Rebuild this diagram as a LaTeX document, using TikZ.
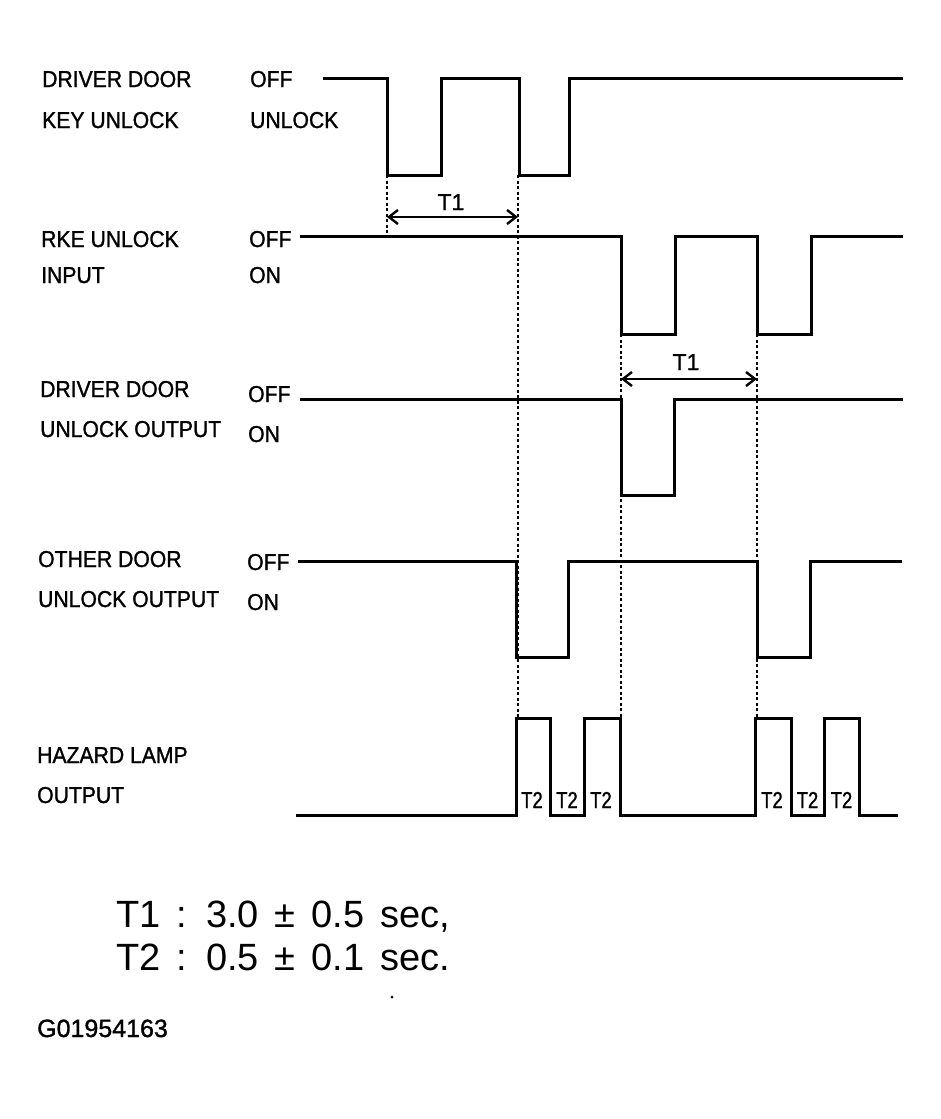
\documentclass[tikz,border=0pt]{standalone}
\usepackage{fontspec}
\setmainfont{Liberation Sans}[FakeStretch=0.92,FakeBold=1.2]
\newfontfamily\plainfont{Liberation Sans}[FakeBold=1.2]
\newfontfamily\legendfont{Liberation Sans}[WordSpace=1.5]
\newfontfamily\narrowfont{Liberation Sans}[FakeStretch=0.8,FakeBold=1.2]
\usetikzlibrary{arrows.meta}

\tikzset{
  signal/.style={line width=3pt, line join=miter},
  guide/.style={line width=2.6pt, dash pattern=on 3pt off 2.5pt},
  lbl/.style={anchor=base west, inner sep=0pt, font=\fontsize{23}{23}\selectfont},
  tmark/.style={anchor=base, inner sep=0pt, font=\plainfont\fontsize{23}{23}\selectfont},
  tsmall/.style={anchor=base, inner sep=0pt, font=\narrowfont\fontsize{23}{23}\selectfont},
  tspan/.style={line width=2.4pt, {Straight Barb[length=9pt,width=14pt]}-{Straight Barb[length=9pt,width=14pt]}},
}

\begin{document}
\begin{tikzpicture}[x=1pt,y=-1pt]
    \fill[white] (0,0) rectangle (941,1119);

    % Signal names
    \node[lbl] (n1a) at (42,87)  {DRIVER DOOR};
    \node[lbl] (n1b) at (42,128) {KEY UNLOCK};
    \node[lbl] (n2a) at (41,247) {RKE UNLOCK};
    \node[lbl] (n2b) at (41,283) {INPUT};
    \node[lbl] (n3a) at (40,397) {DRIVER DOOR};
    \node[lbl] (n3b) at (40,437) {UNLOCK OUTPUT};
    \node[lbl] (n4a) at (38,567) {OTHER DOOR};
    \node[lbl] (n4b) at (38,607) {UNLOCK OUTPUT};
    \node[lbl] (n5a) at (37,763) {HAZARD LAMP};
    \node[lbl] (n5b) at (37,803) {OUTPUT};

    % States
    \node[lbl] (s1a) at (250,87)  {OFF};
    \node[lbl] (s1b) at (250,128) {UNLOCK};
    \node[lbl] (s2a) at (249,247) {OFF};
    \node[lbl] (s2b) at (249,283) {ON};
    \node[lbl] (s3a) at (248,402) {OFF};
    \node[lbl] (s3b) at (248,442) {ON};
    \node[lbl] (s4a) at (247,570) {OFF};
    \node[lbl] (s4b) at (247,610) {ON};

    % Waveforms
    \draw[signal] (323,78) -- (387,78) -- (387,175) -- (441,175) -- (441,78)
        -- (519,78) -- (519,175) -- (569,175) -- (569,78) -- (903,78);
    \draw[signal] (300,236) -- (621,236) -- (621,334) -- (675,334) -- (675,236)
        -- (757,236) -- (757,334) -- (811,334) -- (811,236) -- (903,236);
    \draw[signal] (300,399) -- (621,399) -- (621,495) -- (674,495) -- (674,399)
        -- (903,399);
    \draw[signal] (298,561) -- (516,561) -- (516,657) -- (568,657) -- (568,561)
        -- (757,561) -- (757,657) -- (810,657) -- (810,561) -- (902,561);
    \draw[signal] (296,815) -- (516,815) -- (516,718) -- (550,718) -- (550,815)
        -- (584,815) -- (584,718) -- (620,718) -- (620,815) -- (755,815)
        -- (755,718) -- (791,718) -- (791,815) -- (824,815) -- (824,718)
        -- (859,718) -- (859,815) -- (898,815);

    % Timing guides
    \coordinate (g1) at (387,175);
    \coordinate (g2) at (518,175);
    \coordinate (g3) at (621,334);
    \coordinate (g4) at (757,334);
    \draw[guide] (g1) -- (387,236);
    \draw[guide] (g2) -- (518,718);
    \draw[guide] (g3) -- (621,718);
    \draw[guide] (g4) -- (757,718);

    % T1 spans
    \coordinate (a1) at (387,217);
    \coordinate (b1) at (518,217);
    \coordinate (a2) at (621,379);
    \coordinate (b2) at (757,379);
    \draw[tspan] (a1) -- (b1);
    \draw[tspan] (a2) -- (b2);
    \node[tmark] (t1a) at (451,210) {T1};
    \node[tmark] (t1b) at (686,370) {T1};

    % T2 marks
    \foreach \xc in {532,567,601,772,807.5,841.5}
        \node[tsmall] at (\xc,808) {T2};

    % Legend
    \node[anchor=base west, inner sep=0pt, font=\legendfont\fontsize{38}{38}\selectfont]
        (leg1) at (116,927) {T1 : 3.0 ± 0.5 sec,};
    \node[anchor=base west, inner sep=0pt, font=\legendfont\fontsize{38}{38}\selectfont]
        (leg2) at (116,970) {T2 : 0.5 ± 0.1 sec.};
    \fill (392,997) circle (1.5pt);
    \node[anchor=base west, inner sep=0pt, font=\plainfont\fontsize{25}{25}\selectfont]
        (code) at (37,1037) {G01954163};
\end{tikzpicture}
\end{document}
